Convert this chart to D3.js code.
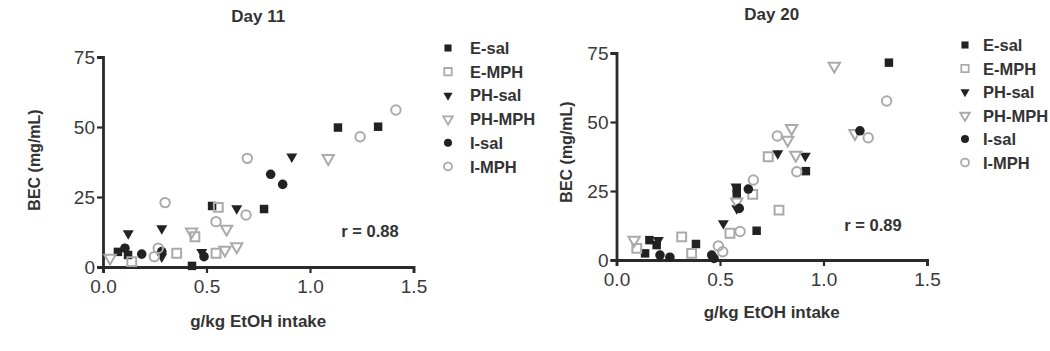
<!DOCTYPE html>
<html>
<head>
<meta charset="utf-8">
<script src="https://cdn.jsdelivr.net/npm/d3@7/dist/d3.min.js"></script>
<style>
    body { margin: 0; background: #fff; }
    svg { display: block; font-family: "Liberation Sans", Arial, sans-serif; }
</style>
</head>
<body>
<script>
// 分组名称
const groups = ['E-sal', 'E-MPH', 'PH-sal', 'PH-MPH', 'I-sal', 'I-MPH'];
const xTicks = [0, 0.5, 1.0, 1.5];
const yTicks = [0, 25, 50, 75];

// Day 11 数据 [g/kg, BEC]
const d11ESal = [[0.072, 5.4], [0.121, 4.3], [0.43, 0.4], [0.527, 21.8], [0.778, 20.7], [1.135, 49.8], [1.329, 50.1]];
const d11EMph = [[0.139, 1.9], [0.356, 4.9], [0.444, 10.8], [0.546, 4.9], [0.557, 21.3]];
const d11PhSal = [[0.122, 12.0], [0.284, 13.8], [0.284, 3.7], [0.477, 5.3], [0.646, 20.9], [0.912, 39.4]];
const d11PhMph = [[0.034, 3.2], [0.428, 12.6], [0.597, 13.6], [0.589, 6.1], [0.646, 7.3], [1.088, 38.8]];
const d11ISal = [[0.106, 6.7], [0.187, 4.6], [0.284, 5.5], [0.488, 3.7], [0.81, 33.1], [0.868, 29.5]];
const d11IMph = [[0.3, 23.0], [0.248, 3.7], [0.267, 6.7], [0.546, 16.2], [0.691, 18.6], [0.697, 38.8], [1.242, 46.5], [1.415, 56.1]];

// Day 20 数据
const d20ESal = [[0.138, 2.4], [0.159, 7.2], [0.194, 5.4], [0.384, 5.8], [0.581, 26.0], [0.581, 23.9], [0.677, 10.6], [0.915, 32.2], [1.316, 71.5]];
const d20EMph = [[0.098, 4.2], [0.315, 8.4], [0.363, 2.4], [0.548, 9.7], [0.658, 23.8], [0.785, 18.1], [0.733, 37.4]];
const d20PhSal = [[0.202, 7.2], [0.516, 13.3], [0.581, 18.7], [0.577, 26.6], [0.779, 38.6], [0.912, 37.7]];
const d20PhMph = [[0.085, 7.2], [0.581, 21.1], [0.846, 47.7], [0.827, 43.5], [0.866, 38.0], [1.052, 70.3], [1.152, 45.9]];
const d20ISal = [[0.21, 1.8], [0.258, 1.0], [0.46, 1.8], [0.471, 0.6], [0.593, 18.7], [0.637, 25.7], [1.176, 46.8]];
const d20IMph = [[0.492, 5.1], [0.513, 3.0], [0.597, 10.3], [0.661, 29.0], [0.777, 44.9], [0.871, 32.0], [1.216, 44.3], [1.305, 57.6]];

const width = 1050;
const height = 351;
const black = '#222';
const gray = '#aaa';

// 每组的标记样式
const styles = [
    {type: d3.symbolSquare, size: 72, fill: black, stroke: 'none', rotate: 0},
    {type: d3.symbolSquare, size: 78, fill: 'none', stroke: gray, rotate: 0},
    {type: d3.symbolTriangle, size: 52, fill: black, stroke: 'none', rotate: 180},
    {type: d3.symbolTriangle, size: 56, fill: 'none', stroke: gray, rotate: 180},
    {type: d3.symbolCircle, size: 72, fill: black, stroke: 'none', rotate: 0},
    {type: d3.symbolCircle, size: 70, fill: 'none', stroke: gray, rotate: 0}
];

const svg = d3.select('body')
    .append('svg')
    .attr('width', width)
    .attr('height', height);

drawPanel({
    title: 'Day 11',
    series: [d11ESal, d11EMph, d11PhSal, d11PhMph, d11ISal, d11IMph],
    r: 'r = 0.88',
    xRange: [103, 413.5],
    yRange: [267, 57],
    titleY: 22,
    yLabelX: 40,
    yLabelY: 160,
    xLabelY: 327,
    tickLabelY: 294,
    rPos: [370, 237],
    legend: {x: 448, textX: 470, y: 48, step: 23.7}
});

drawPanel({
    title: 'Day 20',
    series: [d20ESal, d20EMph, d20PhSal, d20PhMph, d20ISal, d20IMph],
    r: 'r = 0.89',
    xRange: [616.5, 927],
    yRange: [260, 53],
    titleY: 20,
    yLabelX: 572,
    yLabelY: 152,
    xLabelY: 318,
    tickLabelY: 287,
    rPos: [873, 231],
    legend: {x: 965, textX: 983, y: 45, step: 23.5}
});

/**
 * 画一个面板
 *
 * @param {Object} cfg 面板配置
 */
function drawPanel(cfg) {
    const x = d3.scaleLinear().domain([0, 1.5]).range(cfg.xRange);
    const y = d3.scaleLinear().domain([0, 75]).range(cfg.yRange);
    const g = svg.append('g');

    // 坐标轴
    const xAxis = g.append('g')
        .attr('transform', `translate(0,${cfg.yRange[0]})`)
        .call(d3.axisBottom(x).tickValues(xTicks).tickSizeOuter(0).tickSize(6)
            .tickFormat(d3.format('.1f')));
    const yAxis = g.append('g')
        .attr('transform', `translate(${cfg.xRange[0]},0)`)
        .call(d3.axisLeft(y).tickValues(yTicks).tickSizeOuter(0).tickSize(6));
    [xAxis, yAxis].forEach(a => {
        a.select('.domain').attr('stroke', '#2a2a2a').attr('stroke-width', 2.8);
        a.selectAll('.tick line').attr('stroke', '#2a2a2a').attr('stroke-width', 2.2);
        a.selectAll('.tick text')
            .attr('fill', '#3a3a3a')
            .attr('font-size', '19px')
            .attr('font-family', '"Liberation Sans", Arial, sans-serif');
    });
    xAxis.selectAll('.tick text').attr('y', cfg.tickLabelY - cfg.yRange[0] - 14);
    yAxis.selectAll('.tick text').attr('x', -8);

    // 散点
    cfg.series.forEach((data, i) => {
        const s = styles[i];
        g.append('g')
            .selectAll('path')
            .data(data)
            .enter()
            .append('path')
            .attr('d', d3.symbol().type(s.type).size(s.size))
            .attr('transform', d => `translate(${x(d[0])},${y(d[1])}) rotate(${s.rotate})`)
            .attr('fill', s.fill)
            .attr('stroke', s.stroke)
            .attr('stroke-width', 2);
    });

    // 文字
    const mid = (cfg.xRange[0] + cfg.xRange[1]) / 2;
    g.append('text')
        .attr('x', mid)
        .attr('y', cfg.titleY)
        .attr('text-anchor', 'middle')
        .attr('font-weight', 'bold')
        .attr('font-size', '17px')
        .attr('fill', '#333')
        .text(cfg.title);
    g.append('text')
        .attr('x', mid)
        .attr('y', cfg.xLabelY)
        .attr('text-anchor', 'middle')
        .attr('font-weight', 'bold')
        .attr('font-size', '17px')
        .attr('fill', '#333')
        .text('g/kg EtOH intake');
    g.append('text')
        .attr('transform', `translate(${cfg.yLabelX},${cfg.yLabelY}) rotate(-90)`)
        .attr('text-anchor', 'middle')
        .attr('font-weight', 'bold')
        .attr('font-size', '16px')
        .attr('fill', '#333')
        .text('BEC (mg/mL)');
    g.append('text')
        .attr('x', cfg.rPos[0])
        .attr('y', cfg.rPos[1])
        .attr('text-anchor', 'middle')
        .attr('font-weight', 'bold')
        .attr('font-size', '16.5px')
        .attr('fill', '#333')
        .text(cfg.r);

    // 图例
    const lg = cfg.legend;
    const item = g.append('g')
        .selectAll('g')
        .data(groups)
        .enter()
        .append('g')
        .attr('transform', (d, i) => `translate(0,${lg.y + i * lg.step})`);
    item.append('path')
        .attr('d', (d, i) => d3.symbol().type(styles[i].type).size(styles[i].size * 0.7)())
        .attr('transform', (d, i) => `translate(${lg.x},0) rotate(${styles[i].rotate})`)
        .attr('fill', (d, i) => styles[i].fill)
        .attr('stroke', (d, i) => styles[i].stroke)
        .attr('stroke-width', 1.8);
    item.append('text')
        .attr('x', lg.textX)
        .attr('y', 6)
        .attr('font-weight', 'bold')
        .attr('font-size', '16.5px')
        .attr('fill', '#333')
        .text(d => d);
}
</script>
</body>
</html>
